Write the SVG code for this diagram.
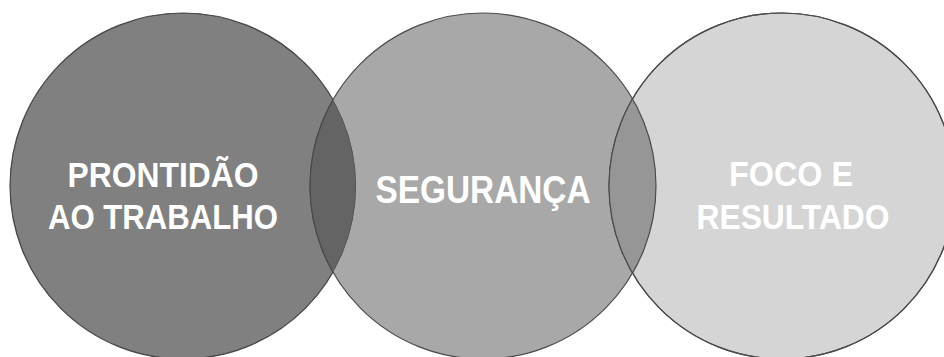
<svg xmlns="http://www.w3.org/2000/svg" width="944" height="357" viewBox="0 0 944 357">
<style>
.c{stroke:#4a4a4a;stroke-width:1.2}
.t{font-family:"Liberation Sans",Arial,sans-serif;font-weight:bold;fill:#ffffff;text-anchor:middle}
</style>
<defs>
<clipPath id="clipL"><circle cx="183" cy="186" r="173"/></clipPath>
<clipPath id="clipR"><circle cx="782" cy="186" r="173"/></clipPath>
</defs>
<rect width="944" height="357" fill="#ffffff"/>
<g id="node-prontidao">
<circle class="c" cx="183" cy="186" r="173" fill="#808080"/>
</g>
<g id="node-seguranca">
<circle class="c" cx="483" cy="186" r="173" fill="#a8a8a8"/>
</g>
<g id="node-foco">
<circle class="c" cx="782" cy="186" r="173" fill="#d5d5d5"/>
</g>
<g id="overlaps">
<circle class="c" cx="483" cy="186" r="173" fill="#646464" clip-path="url(#clipL)"/>
<circle class="c" cx="183" cy="186" r="173" fill="none" clip-path="url(#clipL)"/>
<circle class="c" cx="483" cy="186" r="173" fill="#969696" clip-path="url(#clipR)"/>
<circle class="c" cx="782" cy="186" r="173" fill="none"/>
</g>
<g id="labels">
<text class="t" x="163" y="187" font-size="35" textLength="191" lengthAdjust="spacingAndGlyphs">PRONTIDÃO</text>
<text class="t" x="163" y="229" font-size="35" textLength="230" lengthAdjust="spacingAndGlyphs">AO TRABALHO</text>
<text class="t" x="483" y="203" font-size="38" textLength="215" lengthAdjust="spacingAndGlyphs">SEGURANÇA</text>
<text class="t" x="791" y="186" font-size="35" textLength="124" lengthAdjust="spacingAndGlyphs">FOCO E</text>
<text class="t" x="793" y="229" font-size="35" textLength="193" lengthAdjust="spacingAndGlyphs">RESULTADO</text>
</g>
</svg>
